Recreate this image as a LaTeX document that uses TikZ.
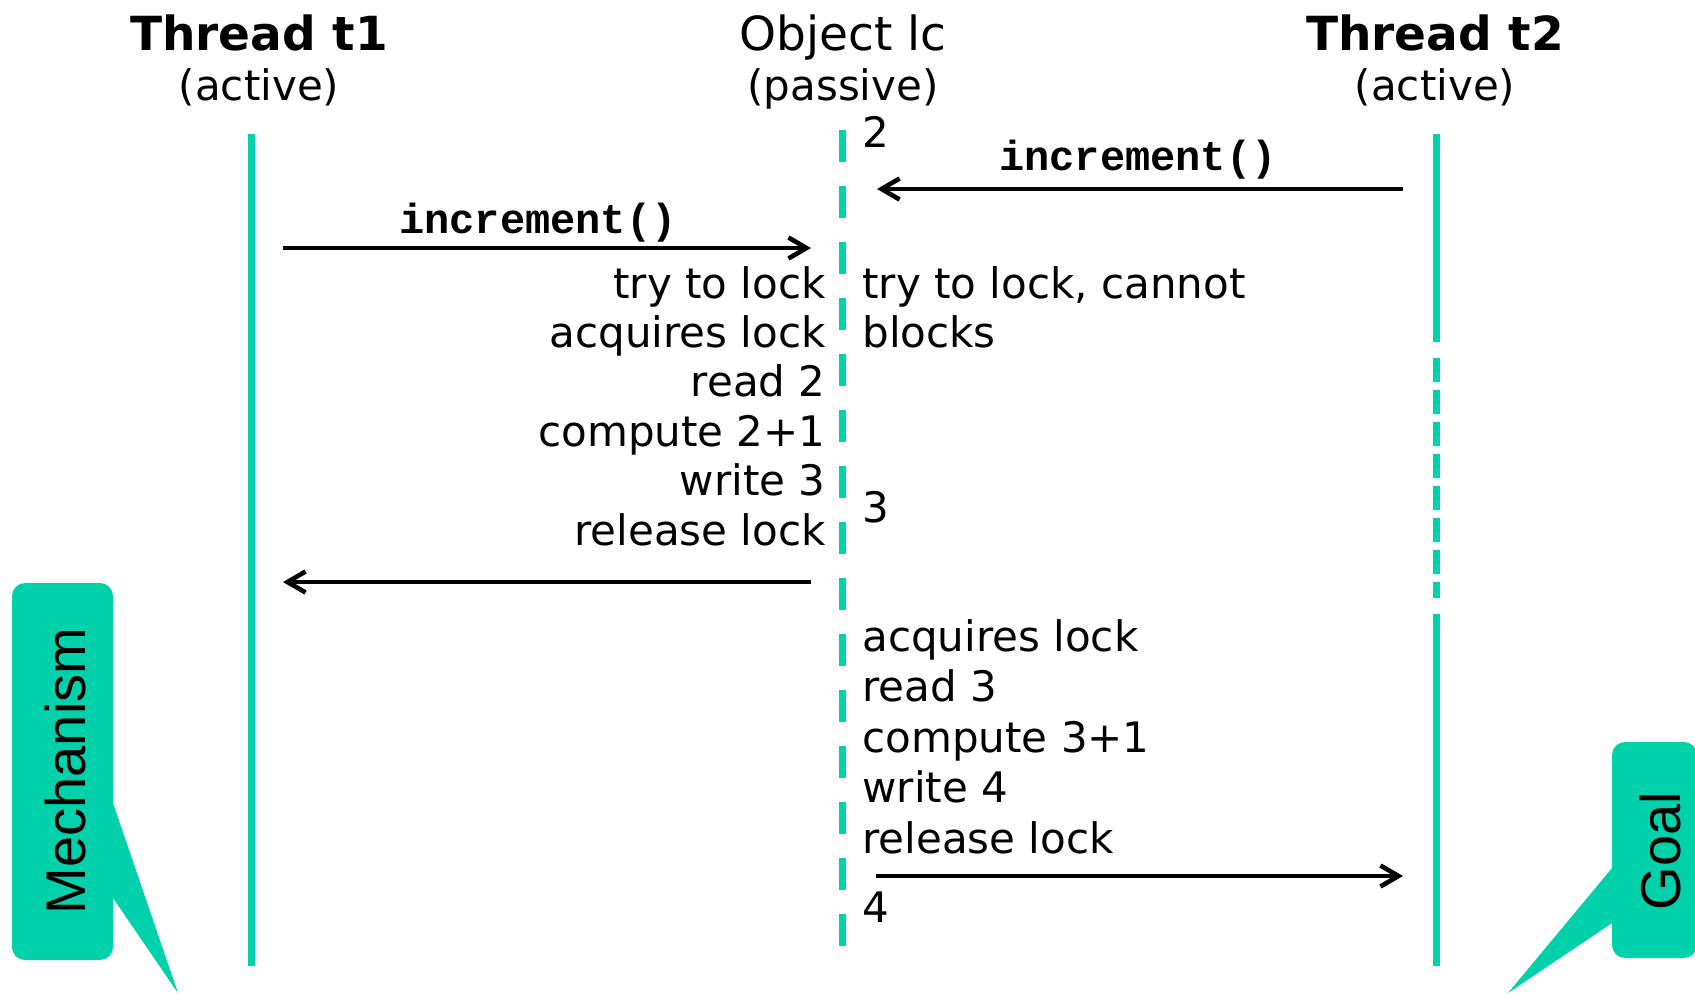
\documentclass[tikz,border=0pt]{standalone}
\usepackage{fontspec}
\setmainfont{DejaVu Sans}
\newfontfamily\codefont{Liberation Mono}
\newfontfamily\notefont{Liberation Sans}
\usetikzlibrary{arrows.meta, positioning}
\definecolor{lifeteal}{HTML}{00D1AB}

\begin{document}
\begin{tikzpicture}[
    x=0.5pt, y=-0.5pt,
    head/.style={font=\fontsize{23.5}{28}\selectfont\bfseries, inner sep=0pt, anchor=base},
    sub/.style={font=\fontsize{21}{25}\selectfont, inner sep=0pt, anchor=base},
    msg/.style={font=\fontsize{21}{25}\selectfont, inner sep=0pt},
    call/.style={font=\codefont\bfseries\fontsize{21}{25}\selectfont, inner sep=0pt, anchor=base},
    life/.style={lifeteal, line width=3.5pt},
    arrow/.style={-{Straight Barb[length=9pt,width=10.5pt,line width=2.3pt]}, line width=1.7pt},
    note/.style={font=\notefont\fontsize{28}{32}\selectfont, inner sep=0pt, anchor=base, rotate=90},
    balloon/.style={fill=lifeteal, rounded corners=6.5pt}
]
\useasboundingbox (0,0) rectangle (1695,993);

% Heads
\node[head] (t1) at (259,50) {Thread t1};
\node[sub] (t1sub) at (259,100) {(active)};
\node[head, font=\fontsize{23.5}{28}\selectfont] (lc) at (843,50) {Object lc};
\node[sub] (lcsub) at (843,100) {(passive)};
\node[head] (t2) at (1435,50) {Thread t2};
\node[sub] (t2sub) at (1435,100) {(active)};

% Lifelines
\coordinate (t1top) at (251,134);
\coordinate (t1bot) at (251,966);
\coordinate (lctop) at (842,130);
\coordinate (lcbot) at (842,947);
\coordinate (t2top) at (1436,134);
\coordinate (t2wait) at (1436,342);
\coordinate (t2woke) at (1436,614);
\coordinate (t2bot) at (1436,966);
\draw[life] (t1top) -- (t1bot);
\draw[life, dash pattern=on 16pt off 12pt] (lctop) -- (lcbot);
\draw[life] (t2top) -- (t2wait);
\draw[life, dash pattern=on 11.75pt off 4.25pt] ([yshift=-8pt]t2wait) -- ([yshift=8pt]t2woke);
\draw[life] (t2woke) -- (t2bot);

% Thread t1 side
\node[msg, anchor=base east] (m1) at (826,298) {try to lock};
\node[msg, anchor=base east] (m2) at (826,347.4) {acquires lock};
\node[msg, anchor=base east] (m3) at (826,396.8) {read 2};
\node[msg, anchor=base east] (m4) at (826,446.2) {compute 2+1};
\node[msg, anchor=base east] (m5) at (826,495.6) {write 3};
\node[msg, anchor=base east] (m6) at (826,545) {release lock};

% Thread t2 side
\node[msg, anchor=base west] (v2) at (862,147) {2};
\node[msg, anchor=base west] (n1) at (862,298) {try to lock, cannot};
\node[msg, anchor=base west] (n2) at (862,347) {blocks};
\node[msg, anchor=base west] (v3) at (862,522) {3};
\node[msg, anchor=base west] (n3) at (862,651) {acquires lock};
\node[msg, anchor=base west] (n4) at (862,701.5) {read 3};
\node[msg, anchor=base west] (n5) at (862,752) {compute 3+1};
\node[msg, anchor=base west] (n6) at (862,802.5) {write 4};
\node[msg, anchor=base west] (n7) at (862,853) {release lock};
\node[msg, anchor=base west] (v4) at (862,922) {4};

% Arrows
\coordinate (t2out) at (1403,189);
\coordinate (lcin2) at (877,189);
\coordinate (t1out) at (283,248);
\coordinate (lcin1) at (811,248);
\coordinate (lcret1) at (811,582);
\coordinate (t1ret) at (283,582);
\coordinate (lcret2) at (876,876);
\coordinate (t2ret) at (1403,876);
\node[call] (call2) at (1138,170) {increment()};
\node[call] (call1) at (538,233) {increment()};
\draw[arrow] (t2out) -- (lcin2);
\draw[arrow] (t1out) -- (lcin1);
\draw[arrow] (lcret1) -- (t1ret);
\draw[arrow] (lcret2) -- (t2ret);

% Callouts
\fill[balloon] (12,583) rectangle (113,960);
\fill[lifeteal] (113,803) -- (178,993) -- (113,898) -- (105,898) -- (105,803) -- cycle;
\node[note] (mech) at (85,771) {Mechanism};
\fill[balloon] (1612,742) rectangle (1697,958);
\fill[lifeteal] (1612,868) -- (1508,993) -- (1612,923) -- (1620,923) -- (1620,868) -- cycle;
\node[note] (goal) at (1680,851) {Goal};

\end{tikzpicture}
\end{document}
